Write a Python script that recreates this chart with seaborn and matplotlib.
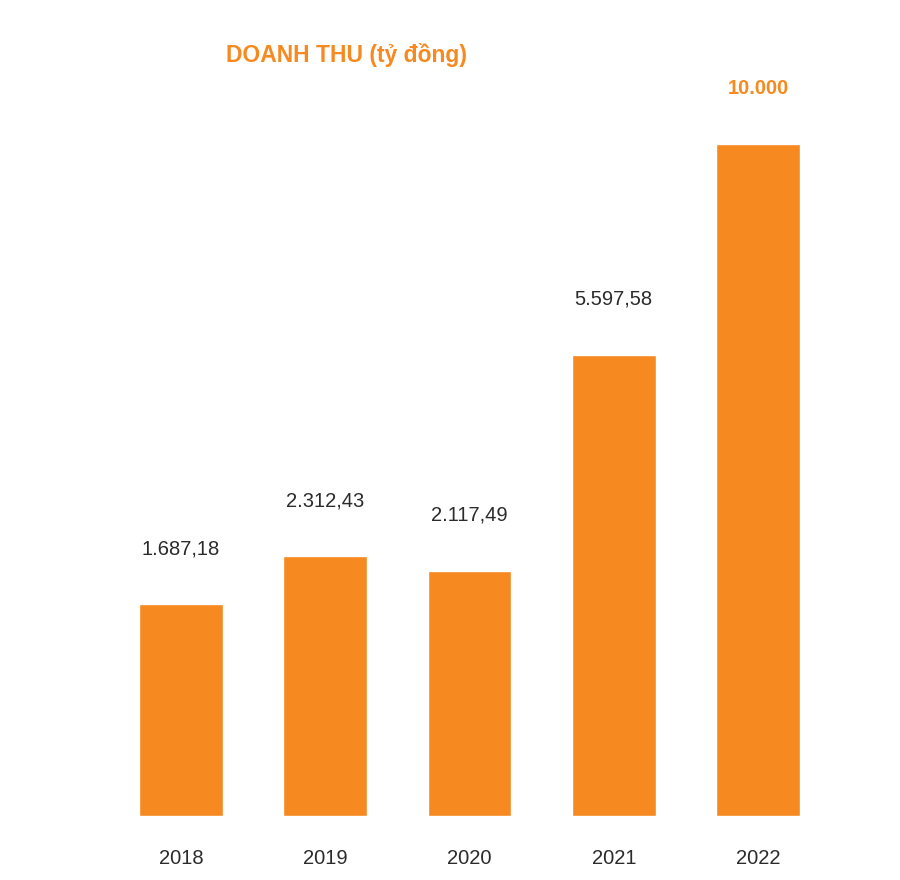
import numpy as np
import pandas as pd
import matplotlib
matplotlib.use("Agg")
import matplotlib.pyplot as plt
import seaborn as sns

years = ["2018", "2019", "2020", "2021", "2022"]
revenue = [1687.18, 2312.43, 2117.49, 5597.58, 10000.0]
value_labels = ["1.687,18", "2.312,43", "2.117,49", "5.597,58", "10.000"]
title_text = "DOANH THU (tỷ đồng)"

ORANGE = "#F68A20"
DARK = "#2b2b2b"

sns.set_theme(style="white")
plt.rcParams["font.family"] = ["Liberation Sans", "DejaVu Sans"]

df = pd.DataFrame({"year": years, "revenue": revenue})

fig = plt.figure(figsize=(9, 8.8), dpi=100)
ax_bottom = (880 - 815.5) / 880
ax_top = 1 - 20 / 880
ax = fig.add_axes([0, ax_bottom, 1, ax_top - ax_bottom])

sns.barplot(data=df, x="year", y="revenue", color=ORANGE, saturation=1,
            width=0.58, ax=ax)

# non-linear (power) value axis, as in the original graphic
p = 0.65
fwd = lambda y: np.power(np.clip(y, 0, None), p)
inv = lambda y: np.power(np.clip(y, 0, None), 1 / p)
ax.set_yscale("function", functions=(fwd, inv))
axes_h_px = 880 * (ax_top - ax_bottom)
top_px_2022 = 815.5 - 144
ax.set_ylim(0, inv(fwd(max(revenue)) * axes_h_px / top_px_2022))

spacing = 144.25
ax.set_xlim(-181 / spacing, (900 - 181) / spacing)

for s in ax.spines.values():
    s.set_visible(False)
ax.set_yticks([])
ax.set_xlabel("")
ax.set_ylabel("")
ax.tick_params(axis="x", length=0, pad=24, labelsize=14.5, labelcolor=DARK)

for i, (v, lab) in enumerate(zip(revenue, value_labels)):
    last = i == len(revenue) - 1
    ax.annotate(lab, xy=(i, v), xytext=(0, 36), textcoords="offset points",
                ha="center", va="baseline", fontsize=14.5,
                color=ORANGE if last else DARK,
                fontweight="bold" if last else "normal")

fig.text(346 / 900, 1 - 62 / 880, title_text, ha="center", va="baseline",
         fontsize=16.5, fontweight="bold", color=ORANGE)

fig.savefig("out.png", dpi=100, facecolor="white")
